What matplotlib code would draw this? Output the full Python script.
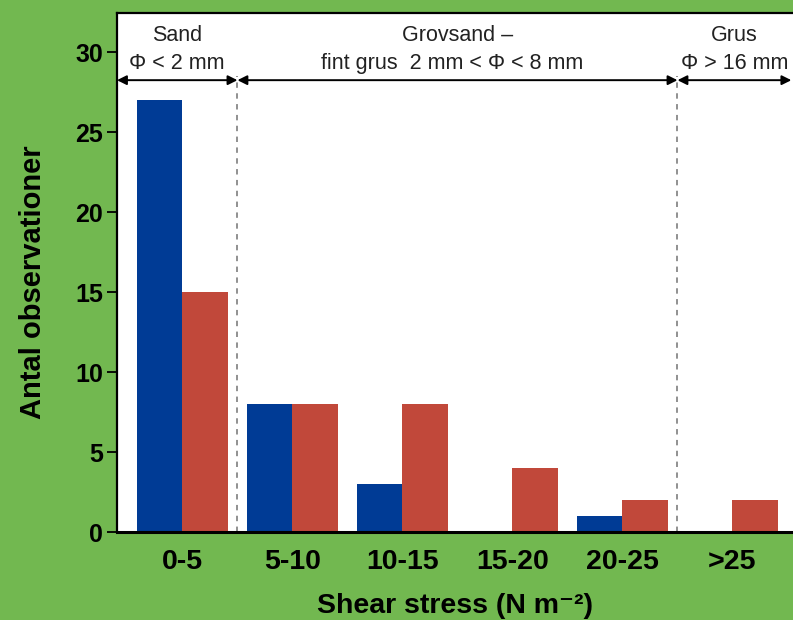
import matplotlib
matplotlib.use("Agg")
import matplotlib.pyplot as plt
import numpy as np

categories = ["0-5", "5-10", "10-15", "15-20", "20-25", ">25"]
blue_vals = [27, 8, 3, 0, 1, 0]
red_vals = [15, 8, 8, 4, 2, 2]
yticks = [0, 5, 10, 15, 20, 25, 30]

GREEN = "#72b850"
BLUE = "#003b95"
RED = "#c1483a"

plt.rcParams['font.family'] = ['Liberation Sans', 'DejaVu Sans']

fig = plt.figure(figsize=(7.93, 6.2), dpi=100, facecolor=GREEN)
ax = fig.add_axes([117/793, 1-532/620, 1-117/793, (532-13)/620])
ax.set_facecolor("white")

x = np.arange(len(categories))
w = 0.41
ax.bar(x - w/2, blue_vals, width=w, color=BLUE, zorder=2)
ax.bar(x + w/2, red_vals, width=w, color=RED, zorder=2)

ax.set_xlim(-0.595, 5.55)
ax.set_ylim(0, 32.45)
ax.set_yticks(yticks)
ax.set_yticklabels([str(t) for t in yticks], fontsize=18, fontweight='bold')
ax.set_xticks(x)
ax.set_xticklabels(categories, fontsize=20.5, fontweight='bold')
ax.tick_params(axis='x', length=0, pad=12)
ax.tick_params(axis='y', length=7, width=1.3, direction='out', pad=3)

for s in ['left', 'top', 'bottom']:
    ax.spines[s].set_linewidth(1.6)
    ax.spines[s].set_color('black')
ax.spines['bottom'].set_linewidth(2.2)
ax.spines['right'].set_visible(False)

ax.set_ylabel("Antal observationer", fontsize=21, fontweight='bold')
ax.yaxis.set_label_coords(-0.104, 0.482)
ax.set_xlabel("Shear stress (N m⁻²)", fontsize=20.5, fontweight='bold', labelpad=13)

# dashed separators
for xv in [0.5, 4.5]:
    ax.plot([xv, xv], [0, 28.5], color='#888888', lw=1.3, ls=(0, (3, 3)), zorder=1)

# arrows
ay = 28.25
ap = dict(arrowstyle='<|-|>', color='black', lw=1.4, mutation_scale=14, shrinkA=0, shrinkB=0)
ax.annotate("", xy=(-0.595, ay), xytext=(0.5, ay), arrowprops=ap)
ax.annotate("", xy=(0.5, ay), xytext=(4.5, ay), arrowprops=ap)
ax.annotate("", xy=(4.5, ay), xytext=(5.535, ay), arrowprops=ap)

fs = 15.5
tc = '#222222'
ax.text(-0.05, 31.05, "Sand", ha='center', va='center', fontsize=fs, color=tc)
ax.text(-0.05, 29.3, "Φ < 2 mm", ha='center', va='center', fontsize=fs, color=tc)
ax.text(2.5, 31.05, "Grovsand –", ha='center', va='center', fontsize=fs, color=tc)
ax.text(2.45, 29.3, "fint grus  2 mm < Φ < 8 mm", ha='center', va='center', fontsize=fs, color=tc)
ax.text(5.02, 31.05, "Grus", ha='center', va='center', fontsize=fs, color=tc)
ax.text(5.02, 29.3, "Φ > 16 mm", ha='center', va='center', fontsize=fs, color=tc)

fig.savefig("out.png", dpi=100, facecolor=GREEN)
